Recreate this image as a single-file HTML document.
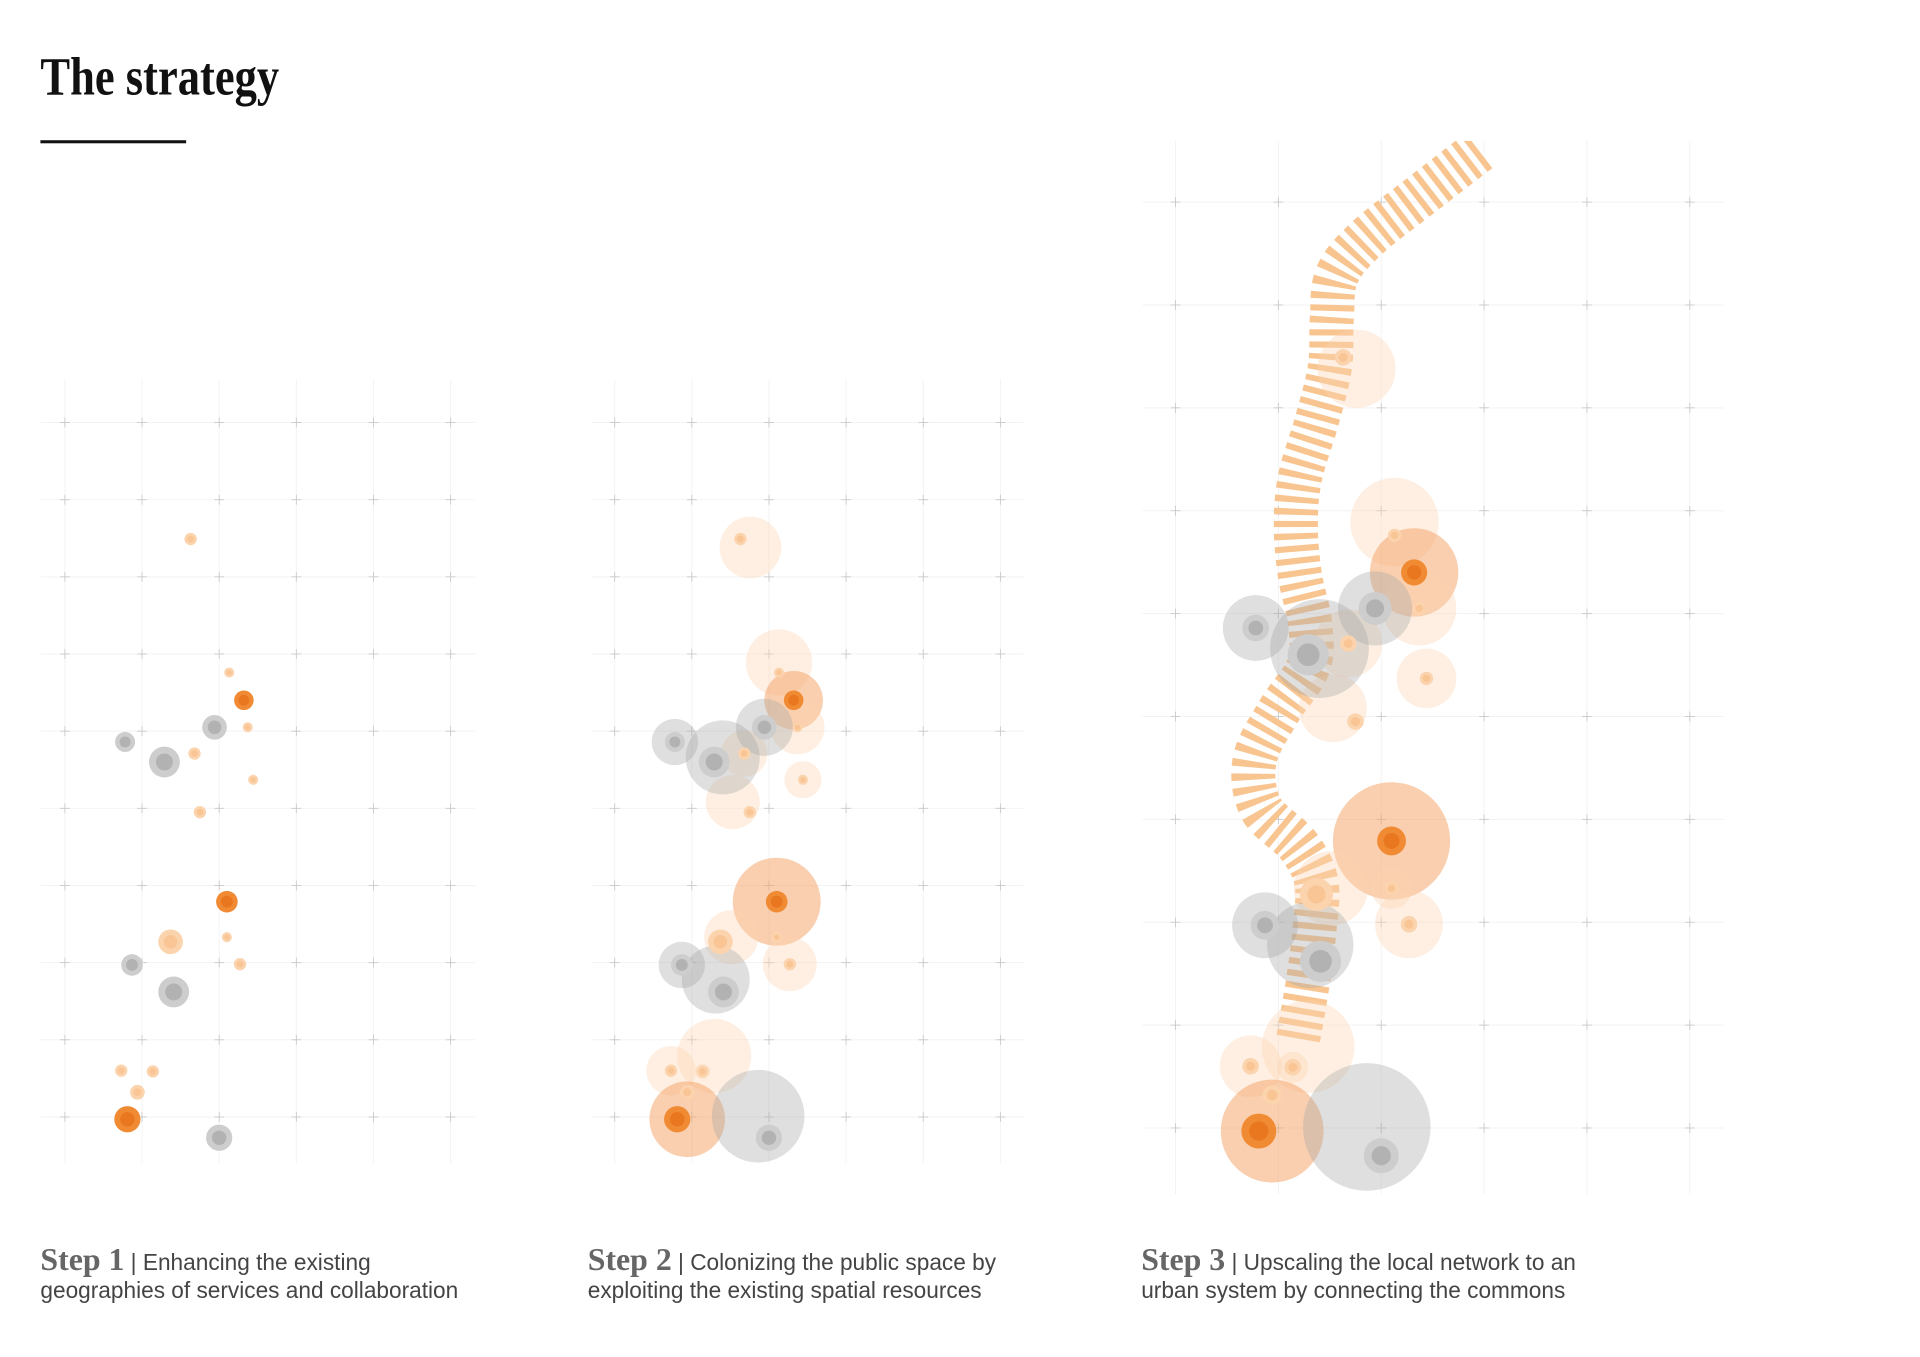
<!DOCTYPE html>
<html><head><meta charset="utf-8"><style>
html,body{margin:0;padding:0;background:#fff;}
svg{display:block;}
</style></head><body>
<svg id="chart" width="1920" height="1357" viewBox="0 0 1568 1108" preserveAspectRatio="none" xmlns="http://www.w3.org/2000/svg">
<defs><clipPath id="clip3"><rect x="933" y="115" width="475" height="860"/></clipPath></defs>
<text x="33" y="77" font-family="Liberation Serif, serif" font-weight="bold" font-size="44" fill="#111" textLength="195" lengthAdjust="spacingAndGlyphs">The strategy</text>
<rect x="33" y="114.5" width="119" height="2.5" fill="#111"/>
<g id="panels"></g>
<g font-family="Liberation Sans, sans-serif" font-size="18.5" fill="#444">
<text x="33" y="1037"><tspan font-family="Liberation Serif, serif" font-weight="bold" font-size="26" fill="#666">Step 1</tspan> | Enhancing the existing</text>
<text x="33" y="1060">geographies of services and collaboration</text></g>
<g font-family="Liberation Sans, sans-serif" font-size="18.5" fill="#444">
<text x="480" y="1037"><tspan font-family="Liberation Serif, serif" font-weight="bold" font-size="26" fill="#666">Step 2</tspan> | Colonizing the public space by</text>
<text x="480" y="1060">exploiting the existing spatial resources</text></g>
<g font-family="Liberation Sans, sans-serif" font-size="18.5" fill="#444">
<text x="932" y="1037"><tspan font-family="Liberation Serif, serif" font-weight="bold" font-size="26" fill="#666">Step 3</tspan> | Upscaling the local network to an</text>
<text x="932" y="1060">urban system by connecting the commons</text></g>
</svg>
<script>
// points in grid units (column, row)
const pointX = [1.63,2.13,2.32,2.37,1.68,2.44,1.75,2.10,1.37,2.10,2.27,0.73,1.14,0.94,0.81,0.78,1.29,1.94,0.87,1.41,2.00];
const pointY = [1.51,3.24,3.60,3.95,4.29,4.63,5.05,6.21,6.73,6.67,7.02,8.40,8.41,8.68,9.03,4.14,4.40,3.95,7.03,7.38,9.27];
const pointType = ['L','L','S','L','L','L','L','S','L','L','L','L','L','L','S','G','G','G','G','G','G'];
const pointR = [0.08,0.065,0.127,0.065,0.08,0.065,0.08,0.14,0.16,0.065,0.08,0.08,0.08,0.095,0.17,0.13,0.2,0.16,0.14,0.2,0.17];
const haloStep2 = [0.40,0.43,0.38,0.35,0.30,0.24,0.35,0.57,0.35,0,0.35,0.32,0.10,0.48,0.49,0.30,0.48,0.37,0.30,0.44,0.60];
const haloStep3 = [0.38,0.43,0.43,0.36,0.33,0.29,0.33,0.57,0.36,0.20,0.33,0.30,0.15,0.45,0.50,0.32,0.48,0.36,0.32,0.42,0.62];
const haloDx = [0.13,0,0,0,0,0,-0.22,0,0.14,0,0,0,0,0.35,0.13,0,0.11,0,0,-0.1,-0.14];
const haloDy = [0.11,-0.13,0,0,0,0,-0.13,0,-0.06,0,0,0,0,-0.47,0,0,-0.06,0,0,-0.16,-0.28];
const ribbonX = [2.95,2.38,1.85,1.57,1.52,1.50,1.37,1.21,1.17,1.21,1.31,1.29,1.01,0.77,0.83,1.19,1.37,1.35,1.29,1.19];
const ribbonY = [-0.5,-0.06,0.36,0.71,1.13,1.61,2.14,2.68,3.15,3.63,4.11,4.52,4.94,5.42,5.89,6.25,6.61,7.08,7.56,8.15];

const panels = [
  {name:'step-1', x0:53, y0:345, s:63, cols:6, rows:10, ext:[33,310,388,950], halo:null},
  {name:'step-2', x0:502, y0:345, s:63, cols:6, rows:10, ext:[483,310,836,950], halo:haloStep2},
  {name:'step-3', x0:960, y0:165, s:84, cols:6, rows:10, ext:[933,115,1408,975], halo:haloStep3, ribbon:true}
];
const NS='http://www.w3.org/2000/svg';
const root=document.getElementById('panels');
function mk(tag,attrs,parent){const e=document.createElementNS(NS,tag);for(const k in attrs)e.setAttribute(k,attrs[k]);parent.appendChild(e);return e;}

panels.forEach(p=>{
  const sx=u=>p.x0+u*p.s, sy=v=>p.y0+v*p.s;
  const g=mk('g',{},root);
  
  
  const grid=mk('g',{stroke:'#f3f3f3','stroke-width':0.8},g);
  
  
  for(let i=0;i<p.cols;i++) mk('line',{x1:sx(i),x2:sx(i),y1:p.ext[1],y2:p.ext[3]},grid);
  for(let j=0;j<p.rows;j++) mk('line',{x1:p.ext[0],x2:p.ext[2],y1:sy(j),y2:sy(j)},grid);
  const cr=mk('g',{stroke:'#c8c8c8','stroke-width':0.7},g);
  
  
  for(let i=0;i<p.cols;i++)for(let j=0;j<p.rows;j++){
    mk('line',{x1:sx(i)-4,x2:sx(i)+4,y1:sy(j),y2:sy(j)},cr);
    mk('line',{x1:sx(i),x2:sx(i),y1:sy(j)-4,y2:sy(j)+4},cr);
  }
  if(p.ribbon){
    const pts=ribbonX.map((x,i)=>[sx(x),sy(ribbonY[i])]);
    let d='M'+pts[0][0]+','+pts[0][1];
    for(let i=0;i<pts.length-1;i++){
      const a=pts[Math.max(0,i-1)],b=pts[i],c=pts[i+1],e=pts[Math.min(pts.length-1,i+2)];
      const c1=[b[0]+(c[0]-a[0])/6,b[1]+(c[1]-a[1])/6],c2=[c[0]-(e[0]-b[0])/6,c[1]-(e[1]-b[1])/6];
      d+=' C'+c1[0]+','+c1[1]+' '+c2[0]+','+c2[1]+' '+c[0]+','+c[1];
    }
    const rb=mk('path',{d:d,fill:'none',stroke:'#f8c590','stroke-width':36,'stroke-dasharray':'5 5','clip-path':'url(#clip3)'},g);
    
    
  }
  if(p.halo){
    const hg=mk('g',{},g);
    
    
    pointX.forEach((x,i)=>{
      if(!p.halo[i])return;
      const t=pointType[i];
      const fill=t==='S'?'rgba(244,160,95,0.5)':t==='G'?'rgba(165,165,165,0.36)':'rgba(252,212,175,0.36)';
      const c=mk('circle',{cx:sx(x+haloDx[i]),cy:sy(pointY[i]+haloDy[i]),r:p.halo[i]*p.s,fill:fill},hg);
      
      
    });
  }
  const pg=mk('g',{},g);
  
  
  pointX.forEach((x,i)=>{
    const t=pointType[i],cx=sx(x),cy=sy(pointY[i]),r=pointR[i]*p.s;
    const outer=t==='S'?'#f08a33':t==='G'?'#cdcdcd':'#fbd3ad';
    const inner=t==='S'?'#e9771f':t==='G'?'#b2b2b2':'#f9c595';
    const c=mk('circle',{cx:cx,cy:cy,r:r,fill:outer},pg);
    
    
    const c2=mk('circle',{cx:cx,cy:cy,r:r*0.55,fill:inner},pg);
    
    
  });
});
</script>
</body></html>
